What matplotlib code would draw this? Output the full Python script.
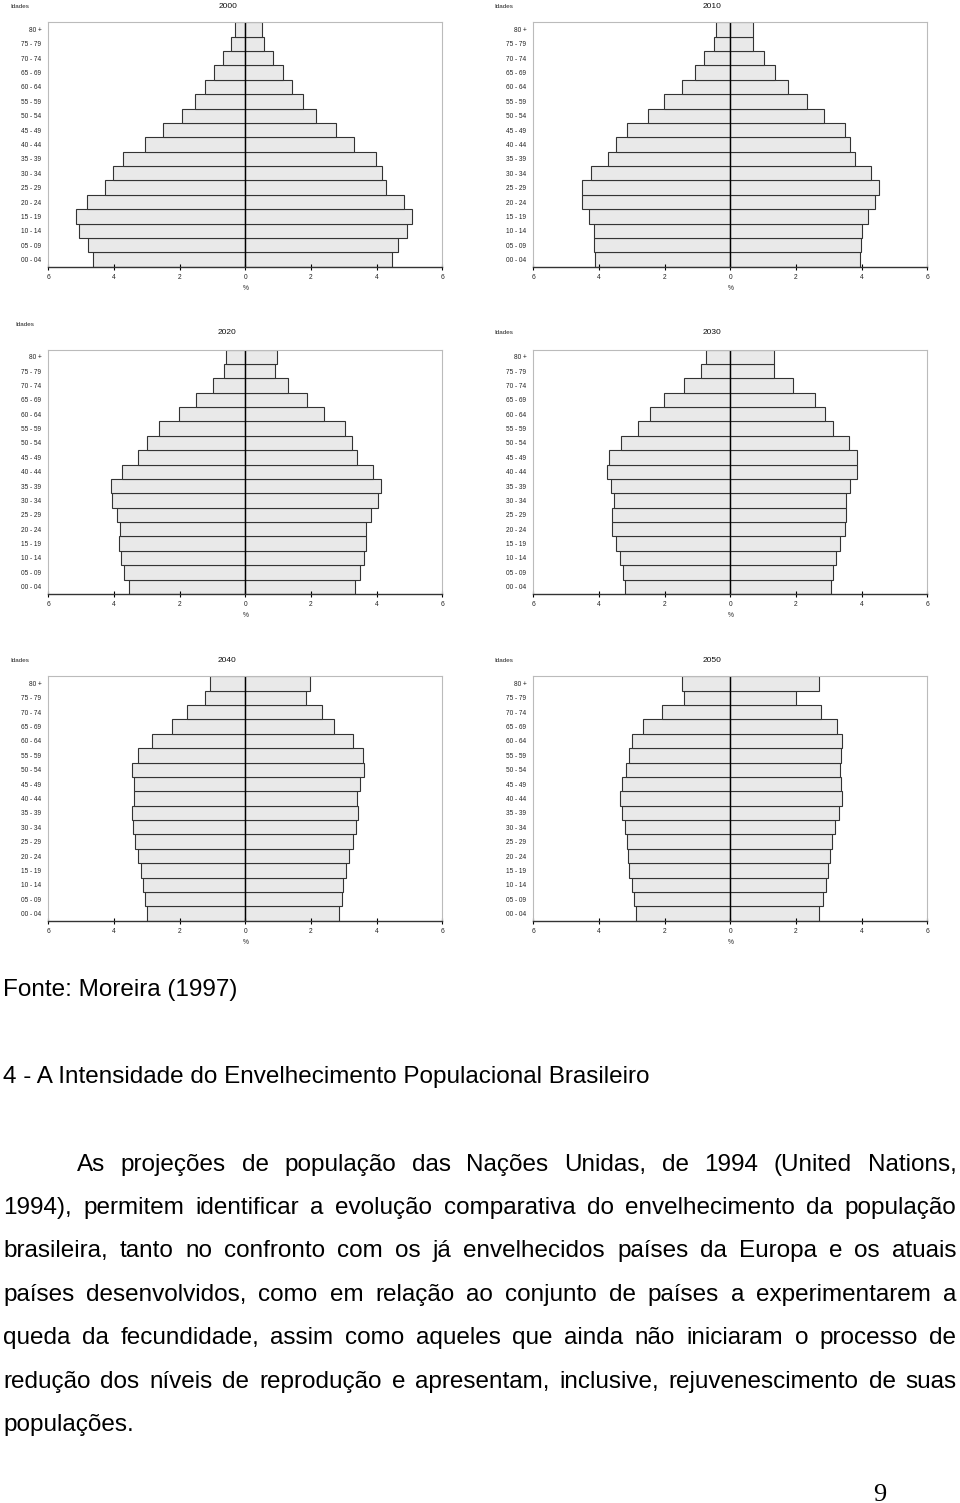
import matplotlib
matplotlib.use("Agg")
import numpy as np
import matplotlib.pyplot as plt

# age groups, bottom to top
ages = ["00 - 04", "05 - 09", "10 - 14", "15 - 19", "20 - 24", "25 - 29", "30 - 34",
        "35 - 39", "40 - 44", "45 - 49", "50 - 54", "55 - 59", "60 - 64", "65 - 69",
        "70 - 74", "75 - 79", "80 +"]

# left side (%) per year, bottom to top
left_2000 = [4.63, 4.80, 5.08, 5.16, 4.83, 4.28, 4.03, 3.73, 3.05, 2.52, 1.94, 1.54, 1.24, 0.95, 0.68, 0.43, 0.32]
right_2000 = [4.47, 4.64, 4.94, 5.07, 4.82, 4.28, 4.16, 3.99, 3.31, 2.77, 2.14, 1.75, 1.43, 1.15, 0.84, 0.56, 0.51]

left_2010 = [4.11, 4.16, 4.16, 4.29, 4.51, 4.52, 4.23, 3.72, 3.48, 3.15, 2.52, 2.03, 1.46, 1.09, 0.80, 0.51, 0.45]
right_2010 = [3.94, 3.98, 4.01, 4.18, 4.42, 4.52, 4.29, 3.80, 3.66, 3.48, 2.85, 2.34, 1.75, 1.36, 1.02, 0.69, 0.68]

left_2020 = [3.53, 3.69, 3.80, 3.84, 3.81, 3.91, 4.05, 4.08, 3.77, 3.28, 3.00, 2.64, 2.02, 1.50, 0.99, 0.64, 0.59]
right_2020 = [3.35, 3.49, 3.62, 3.69, 3.69, 3.84, 4.05, 4.13, 3.90, 3.41, 3.26, 3.04, 2.41, 1.88, 1.31, 0.89, 0.96]

left_2030 = [3.21, 3.28, 3.35, 3.48, 3.59, 3.59, 3.54, 3.63, 3.75, 3.69, 3.34, 2.82, 2.46, 2.02, 1.40, 0.90, 0.74]
right_2030 = [3.07, 3.12, 3.22, 3.35, 3.48, 3.52, 3.52, 3.64, 3.85, 3.87, 3.61, 3.12, 2.88, 2.57, 1.91, 1.32, 1.32]

left_2040 = [2.98, 3.07, 3.13, 3.19, 3.26, 3.36, 3.42, 3.44, 3.38, 3.40, 3.44, 3.28, 2.83, 2.22, 1.77, 1.24, 1.07]
right_2040 = [2.84, 2.94, 2.99, 3.08, 3.15, 3.28, 3.38, 3.42, 3.40, 3.50, 3.63, 3.59, 3.28, 2.71, 2.35, 1.86, 1.97]

left_2050 = [2.86, 2.92, 3.00, 3.09, 3.12, 3.16, 3.22, 3.31, 3.36, 3.30, 3.18, 3.09, 2.99, 2.66, 2.09, 1.40, 1.46]
right_2050 = [2.71, 2.82, 2.90, 2.97, 3.05, 3.10, 3.18, 3.31, 3.39, 3.38, 3.33, 3.37, 3.40, 3.25, 2.75, 2.01, 2.69]

years = ["2000", "2010", "2020", "2030", "2040", "2050"]
lefts = [left_2000, left_2010, left_2020, left_2030, left_2040, left_2050]
rights = [right_2000, right_2010, right_2020, right_2030, right_2040, right_2050]

xticks = [-6, -4, -2, 0, 2, 4, 6]

fonte = "Fonte: Moreira (1997)"
heading = "4 - A Intensidade do Envelhecimento Populacional Brasileiro"
paragraph = [
    "As projeções de população das Nações Unidas, de 1994 (United Nations,",
    "1994), permitem identificar a evolução comparativa do envelhecimento da população",
    "brasileira, tanto no confronto com os já envelhecidos países da Europa e os atuais",
    "países desenvolvidos, como em relação ao conjunto de países a experimentarem a",
    "queda da fecundidade, assim como aqueles que ainda não iniciaram o processo de",
    "redução dos níveis de reprodução e apresentam, inclusive, rejuvenescimento de suas",
    "populações.",
]
page_number = "9"

plt.rcParams["font.family"] = ["Liberation Sans", "DejaVu Sans"]

W, H = 960, 1503
fig = plt.figure(figsize=[W / 100, H / 100], dpi=100)
fig.patch.set_facecolor("white")

# panel geometry in pixels: (axes left, axes top, idades x, idades y, title x, title y)
col_x = [48.3, 533.3]
row_top = [22.3, 349.5, 676.3]
ax_w, ax_h = 394.0, 244.4
label_pos = [
    (10, 6, 228, 6), (494, 6, 712, 6),
    (15, 325, 227, 333), (494, 333, 712, 333),
    (10, 660, 227, 660), (494, 660, 712, 660),
]

y = np.arange(len(ages))
for k in range(6):
    r, c = divmod(k, 2)
    x0, top = col_x[c], row_top[r]
    ax = fig.add_axes([x0 / W, 1 - (top + ax_h) / H, ax_w / W, ax_h / H])

    ax.barh(y, -np.array(lefts[k]), height=1.0, color="#e9e9e9", edgecolor="#333333", linewidth=0.8)
    ax.barh(y, rights[k], height=1.0, color="#e9e9e9", edgecolor="#333333", linewidth=0.8)
    ax.axvline(0, color="black", linewidth=1.0)

    ax.set_xlim(-6, 6)
    ax.set_ylim(-0.5, len(ages) - 0.5)
    ax.set_xticks(xticks)
    ax.set_xticklabels([str(abs(t)) for t in xticks], fontsize=4.8, color="#222222")
    ax.set_yticks(y)
    ax.set_yticklabels(ages, fontsize=4.7, color="#222222")
    ax.tick_params(axis="y", length=0, pad=5)
    ax.tick_params(axis="x", direction="inout", length=4, width=0.8, pad=3)

    for s in ["top", "left", "right"]:
        ax.spines[s].set_color("#bbbbbb")
        ax.spines[s].set_linewidth(0.8)
    ax.spines["bottom"].set_color("#333333")
    ax.spines["bottom"].set_linewidth(1.0)

    ax.set_xlabel("%", fontsize=4.8, labelpad=3, color="#222222")

    ix, iy, tx, ty = label_pos[k]
    fig.text(ix / W, 1 - iy / H, "Idades", fontsize=4.5, ha="left", va="center", color="#222222")
    fig.text(tx / W, 1 - ty / H, years[k], fontsize=6, ha="center", va="center", color="#111111")

# ---- text below the charts ----
fs = 17.5
fig.text(3 / W, 1 - 996 / H, fonte, fontsize=fs, ha="left", va="baseline")
fig.text(3 / W, 1 - 1083 / H, heading, fontsize=fs, ha="left", va="baseline")

renderer = fig.canvas.get_renderer()
line_base = [1171, 1214, 1257, 1301, 1344, 1388, 1431]
right_edge = 956.5
for i, line in enumerate(paragraph):
    words = line.split(" ")
    start = 77 if i == 0 else 3
    texts = [fig.text(0, 1 - line_base[i] / H, w, fontsize=fs, ha="left", va="baseline") for w in words]
    widths = [t.get_window_extent(renderer).width for t in texts]
    if i == len(paragraph) - 1 or len(words) == 1:
        gap = fs * 0.278 * 100 / 72
    else:
        gap = (right_edge - start - sum(widths)) / (len(words) - 1)
    x = start
    for t, w in zip(texts, widths):
        t.set_x(x / W)
        x += w + gap

fig.text(880 / W, 1 - 1501 / H, page_number, fontsize=19, ha="center", va="baseline",
         family=["Liberation Serif", "DejaVu Serif"])

plt.savefig("out.png", dpi=100)
plt.close("all")
